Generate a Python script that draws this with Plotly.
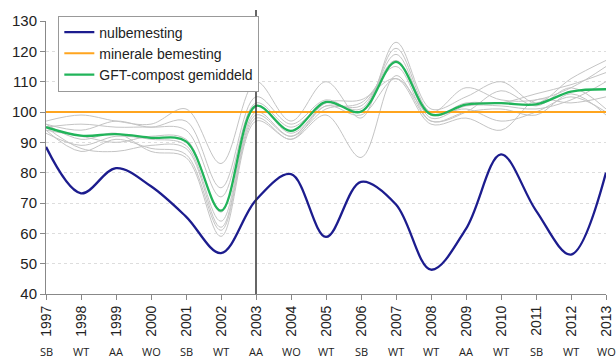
import plotly.graph_objects as go

years = list(range(1997, 2014))
crops = ["SB", "WT", "AA", "WO", "SB", "WT", "AA", "WO", "WT", "SB", "WT", "WT", "AA", "WT", "SB", "WT", "WO"]

nulbemesting = [88.5, 73.2, 81.5, 75.5, 65.5, 53.5, 71, 79.5, 58.8, 77, 69.5, 48, 61.5, 86, 67.5, 53, 80]
minerale = [100] * 17
gft_gemiddeld = [95, 92.2, 92.7, 91.5, 90.3, 67.5, 102, 93.8, 103.3, 100.1, 116.5, 99.2, 102.4, 102.9, 102.5, 106.7, 107.5]

grey_series = [
    [97, 99, 97, 96, 101, 83, 110, 97, 110, 98, 123, 101, 105, 110, 103, 111, 117],
    [96, 94, 97, 95, 97, 75, 105, 96, 104, 100, 121, 100, 108, 104, 104, 108, 115],
    [95, 96, 95, 95, 94, 72, 103, 95, 103, 101, 119, 99, 103, 103, 106, 109, 113],
    [94, 92, 90, 92, 91, 67, 102, 93, 102, 102, 117, 98, 102, 102, 101, 104, 110],
    [93, 89, 92, 91, 89, 64, 100, 92, 101, 103, 115, 97, 100, 101, 99, 106, 99],
    [95, 88, 87, 89, 88, 62, 99, 92, 103, 104, 111, 96, 98, 94, 104, 103, 105],
    [94, 87, 91, 88, 86, 61, 98, 91, 102, 99, 111, 99, 101, 97, 100, 105, 100],
    [96, 91, 93, 87, 85, 59, 97, 91, 99, 85, 112, 97, 100, 107, 102, 108, 101],
]

fig = go.Figure()
for s in grey_series:
    fig.add_trace(go.Scatter(x=years, y=s, mode="lines", showlegend=False, hoverinfo="skip",
                             line=dict(color="#c4c4c4", width=1, shape="spline", smoothing=1)))

fig.add_trace(go.Scatter(x=years, y=minerale, mode="lines", name="minerale bemesting", legendrank=2,
                         line=dict(color="#FFA51F", width=2)))
fig.add_trace(go.Scatter(x=years, y=nulbemesting, mode="lines", name="nulbemesting", legendrank=1,
                         line=dict(color="#1C1C8E", width=2.3, shape="spline", smoothing=1)))
fig.add_trace(go.Scatter(x=years, y=gft_gemiddeld, mode="lines", name="GFT-compost gemiddeld", legendrank=3,
                         line=dict(color="#21B45A", width=2.3, shape="spline", smoothing=1)))

fig.add_shape(type="line", xref="x", yref="paper", x0=2003, x1=2003, y0=0, y1=1.04,
              line=dict(color="#333333", width=1.5))

for yr, c in zip(years, crops):
    fig.add_annotation(x=yr, y=-0.212, xref="x", yref="paper", text=c, showarrow=False,
                       yanchor="middle", font=dict(family="Open Sans", size=11, color="#222222"))

fig.update_layout(
    width=616, height=358,
    margin=dict(l=46, r=10, t=21, b=64),
    paper_bgcolor="white", plot_bgcolor="white",
    font=dict(family="Liberation Sans", color="#222222"),
    legend=dict(x=0.022, y=1.02, xanchor="left", yanchor="top", bgcolor="white",
                bordercolor="#999999", borderwidth=1, font=dict(size=14),
                tracegroupgap=0, itemwidth=30),
    xaxis=dict(range=[1997, 2013], tickvals=years, ticktext=[str(y) for y in years], tickangle=-90,
               showgrid=False, showline=True, linecolor="#888888", linewidth=1, automargin=False,
               ticks="outside", ticklen=5, tickcolor="#888888", zeroline=False,
               tickfont=dict(family="Liberation Sans", size=14)),
    yaxis=dict(range=[40, 130], dtick=10, showgrid=True, gridcolor="#dddddd", griddash="dot",
               showline=True, linecolor="#888888", linewidth=1, ticks="outside", ticklen=5, automargin=False,
               tickcolor="#888888", zeroline=False, tickfont=dict(family="Liberation Sans", size=15)),
)

fig.write_html("out.html", config={"displayModeBar": False},
               post_script="document.body.style.margin='0';document.body.style.overflow='hidden';")
